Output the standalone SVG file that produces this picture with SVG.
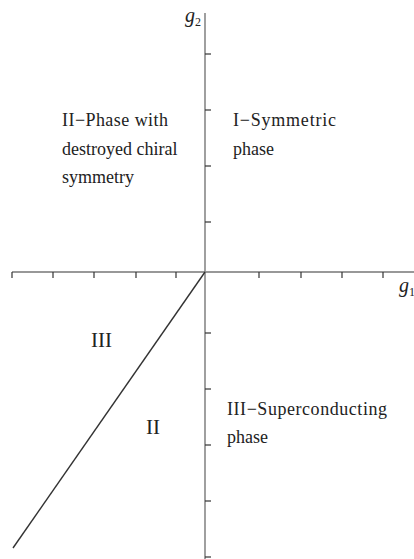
<svg xmlns="http://www.w3.org/2000/svg" width="414" height="559" viewBox="0 0 414 559">
<style>
.lbl{font-family:"Liberation Serif","Times New Roman",serif;font-size:18px;fill:#222}
.big{font-family:"Liberation Serif","Times New Roman",serif;font-size:21px;fill:#222}
.ax{font-family:"Liberation Serif","Times New Roman",serif;font-style:italic;font-size:20px;fill:#222}
.sub{font-size:12px;font-style:normal}
.tick{stroke:#333;stroke-width:1.2}
</style>
<rect width="414" height="559" fill="#fff"/>
<g id="connectors">
<line x1="12" y1="272" x2="414" y2="272" stroke="#333" stroke-width="1.2"/>
<line x1="205" y1="13" x2="205" y2="559" stroke="#888" stroke-width="1.6"/>
<line x1="205" y1="272" x2="13" y2="548" stroke="#333" stroke-width="1.4"/>
<g class="tick">
<line x1="12" y1="272" x2="12" y2="278"/>
<line x1="53" y1="272" x2="53" y2="278"/>
<line x1="94" y1="272" x2="94" y2="278"/>
<line x1="136" y1="272" x2="136" y2="278"/>
<line x1="176" y1="272" x2="176" y2="278"/>
<line x1="259" y1="272" x2="259" y2="278"/>
<line x1="301" y1="272" x2="301" y2="278"/>
<line x1="342" y1="272" x2="342" y2="278"/>
<line x1="383" y1="272" x2="383" y2="278"/>
<line x1="205" y1="54" x2="211" y2="54"/>
<line x1="205" y1="110" x2="211" y2="110"/>
<line x1="205" y1="166" x2="211" y2="166"/>
<line x1="205" y1="222" x2="211" y2="222"/>
<line x1="205" y1="333" x2="211" y2="333"/>
<line x1="205" y1="389" x2="211" y2="389"/>
<line x1="205" y1="445" x2="211" y2="445"/>
<line x1="205" y1="501" x2="211" y2="501"/>
<line x1="205" y1="557" x2="211" y2="557"/>
</g>
</g>
<g id="axis-g2"><text class="ax" x="185" y="22">g<tspan class="sub" dy="4">2</tspan></text></g>
<g id="axis-g1"><text class="ax" x="399" y="292">g<tspan class="sub" dy="4">1</tspan></text></g>
<g id="phase-II">
<text class="lbl" x="62" y="126" textLength="106">II−Phase with</text>
<text class="lbl" x="62" y="155">destroyed chiral</text>
<text class="lbl" x="62" y="183">symmetry</text>
</g>
<g id="phase-I">
<text class="lbl" x="233" y="126" textLength="103">I−Symmetric</text>
<text class="lbl" x="233" y="155">phase</text>
</g>
<g id="phase-III">
<text class="lbl" x="227" y="415" textLength="160">III−Superconducting</text>
<text class="lbl" x="227" y="443">phase</text>
</g>
<g id="region-III"><text class="big" x="91" y="347">III</text></g>
<g id="region-II"><text class="big" x="146" y="434">II</text></g>
</svg>
